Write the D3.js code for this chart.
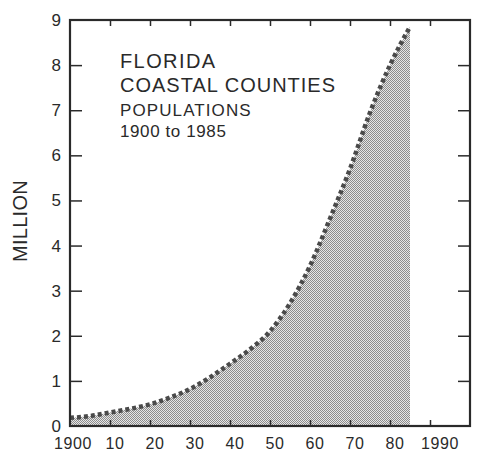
<!DOCTYPE html>
<html><head><meta charset="utf-8">
<script src="https://cdn.jsdelivr.net/npm/d3@7"></script>
<style>
body{margin:0;background:#fff;}
text{font-family:"Liberation Sans",Arial,Helvetica,sans-serif;fill:#2a2a2a;}
</style></head>
<body>
<svg id="chart" width="478" height="454"></svg>
<script>
// Data (population, millions)
const years = [1900,1905,1910,1915,1920,1925,1930,1935,1940,1945,1950,1955,1960,1965,1970,1975,1980,1985];
const population = [0.18,0.22,0.30,0.38,0.48,0.63,0.82,1.08,1.38,1.70,2.10,2.72,3.55,4.60,5.70,6.95,8.00,8.85];
const yTicks = [0,1,2,3,4,5,6,7,8,9];
const xTicks = [1900,1910,1920,1930,1940,1950,1960,1970,1980,1990];
const xTickLabels = ["1900","10","20","30","40","50","60","70","80","1990"];
const titleLines = ["FLORIDA","COASTAL COUNTIES","POPULATIONS","1900 to 1985"];
const yAxisTitle = "MILLION";

const svg = d3.select("#chart");
const L=70, R=470, T=20, B=426;
const x = d3.scaleLinear().domain([1900,2000]).range([L,R]);
const y = d3.scaleLinear().domain([0,9]).range([B,T]);

// checker pattern
const defs = svg.append("defs");
const pat = defs.append("pattern").attr("id","chk").attr("width",2).attr("height",2)
  .attr("patternUnits","userSpaceOnUse");
pat.append("rect").attr("width",2).attr("height",2).attr("fill","#e6e6e6");
pat.append("rect").attr("x",0).attr("y",0).attr("width",1).attr("height",1).attr("fill","#8c8c8c");
pat.append("rect").attr("x",1).attr("y",1).attr("width",1).attr("height",1).attr("fill","#8c8c8c");

const data = years.map((yr,i)=>({yr, v:population[i]}));

const area = d3.area().x(d=>x(d.yr)).y0(y(0)).y1(d=>y(d.v)).curve(d3.curveMonotoneX);
svg.append("path").datum(data).attr("d",area).attr("fill","url(#chk)");

const line = d3.line().x(d=>x(d.yr)).y(d=>y(d.v)).curve(d3.curveMonotoneX);
svg.append("path").datum(data).attr("d",line).attr("fill","none")
  .attr("stroke","#4a4a4a").attr("stroke-width",4.5).attr("stroke-dasharray","4 3");

// frame
svg.append("rect").attr("x",L).attr("y",T).attr("width",R-L).attr("height",B-T)
  .attr("fill","none").attr("stroke","#2a2a2a").attr("stroke-width",2.2);

// axes with inward ticks
const gL = svg.append("g").attr("transform",`translate(${L},0)`)
  .call(d3.axisRight(y).tickValues(yTicks.filter(v=>v>0&&v<9)).tickSize(12).tickFormat(""));
const gR = svg.append("g").attr("transform",`translate(${R},0)`)
  .call(d3.axisLeft(y).tickValues(yTicks.filter(v=>v>0&&v<9)).tickSize(12).tickFormat(""));
const gT = svg.append("g").attr("transform",`translate(0,${T})`)
  .call(d3.axisBottom(x).tickValues(xTicks.filter(v=>v>1900)).tickSize(6).tickFormat(""));
const gB = svg.append("g").attr("transform",`translate(0,${B})`)
  .call(d3.axisTop(x).tickValues(xTicks.filter(v=>v>1900)).tickSize(6).tickFormat(""));
[gL,gR,gT,gB].forEach(g=>{
  g.select(".domain").remove();
  g.selectAll(".tick line").attr("stroke","#2a2a2a").attr("stroke-width",1.5);
});

// y tick labels
svg.append("g").selectAll("text").data(yTicks).join("text")
  .attr("x",61).attr("y",d=>y(d)+6).attr("text-anchor","end")
  .attr("font-size",17).text(d=>d);

// x tick labels
svg.append("g").selectAll("text").data(xTicks).join("text")
  .attr("x",(d,i)=>x(d)+(i===xTicks.length-1?10:(i===0?3:5))).attr("y",449).attr("text-anchor","middle")
  .attr("font-size",16).attr("letter-spacing",0.6).text((d,i)=>xTickLabels[i]);

// y axis title
svg.append("text").attr("transform","translate(27,221) rotate(-90)")
  .attr("text-anchor","middle").attr("font-size",20).attr("letter-spacing",0.3).text(yAxisTitle);

// chart title block
const tconf = [{y:68,fs:20,ls:1.4},{y:92,fs:20,ls:1.0},{y:116,fs:17,ls:1.1},{y:137,fs:17,ls:0.6}];
svg.append("g").selectAll("text").data(titleLines).join("text")
  .attr("x",120).attr("y",(d,i)=>tconf[i].y).attr("font-size",(d,i)=>tconf[i].fs)
  .attr("letter-spacing",(d,i)=>tconf[i].ls).text(d=>d);
</script>
</body></html>
